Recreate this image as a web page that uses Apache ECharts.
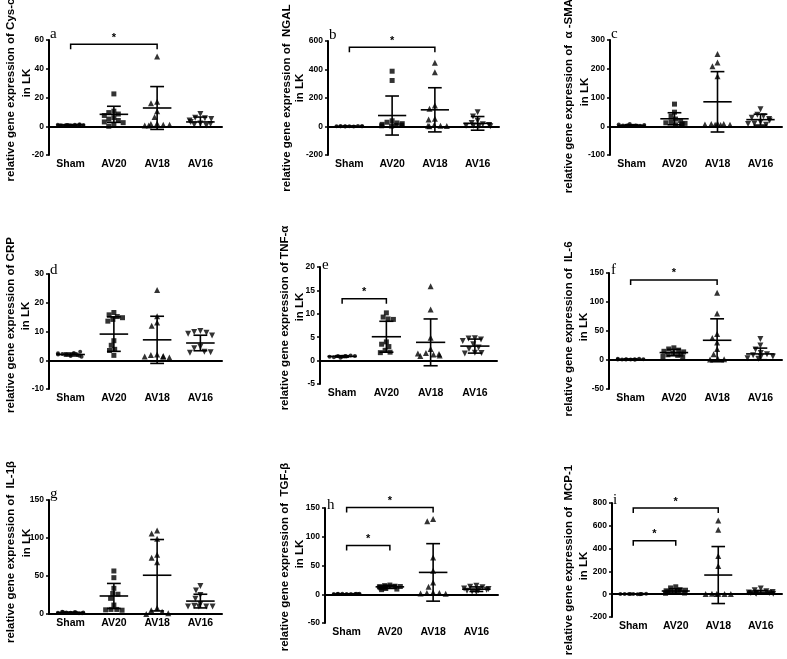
<!DOCTYPE html>
<html><head><meta charset="utf-8">
<script src="https://cdn.jsdelivr.net/npm/echarts@6/dist/echarts.min.js"></script>
<style>html,body{margin:0;padding:0;background:#fff}#c{width:787px;height:659px}</style>
</head><body><div id="c"></div>
<script>
// ---------- DATA ----------
const categories = ['Sham', 'AV20', 'AV18', 'AV16'];
const panelLetters = ['a', 'b', 'c', 'd', 'e', 'f', 'g', 'h', 'i'];
const yTitles = [
  'relative gene expression of Cys-c',
  'relative gene expression of  NGAL',
  'relative gene expression of  \u03b1 -SMA',
  'relative gene expression of CRP',
  'relative gene expression of TNF-\u03b1',
  'relative gene expression of  IL-6',
  'relative gene expression of  IL-1\u03b2',
  'relative gene expression of  TGF-\u03b2',
  'relative gene expression of  MCP-1'
];
const yTitle2 = 'in LK';
const sigMark = '*';

// y-axis ranges [min, max, interval]
const yRanges = [
  [-20, 60, 20], [-200, 600, 200], [-100, 300, 100],
  [-10, 30, 10], [-5, 20, 5], [-50, 150, 50],
  [0, 150, 50], [-50, 150, 50], [-200, 800, 200]
];

// Panel a: Cys-c
const cysC_points = [
  [0.5, 0.8, 1.0, 1.2, 0.6, 0.9, 1.1, 0.7, 1.3, 0.8],
  [22.5, 10.5, 9.5, 8.5, 7.5, 6, 5, 4, 3, 2.5, 1, 0],
  [48.5, 17, 16, 10.5, 6.5, 2, 1.5, 1, 1, 0.5, 0.5],
  [8.5, 6, 5.5, 5, 4, 3, 2, 1.5, 1, 0.5]
];
const cysC_mean = [0.9, 8.3, 12.7, 3.0];
const cysC_sd = [0.3, 5.6, 14.9, 3.4];
const cysC_sig = [[0, 2, 57]];

// Panel b: NGAL
const ngal_points = [
  [1, 2, 0.5, 1.5, 3, 1, 2, 0.5, 1, 2],
  [388, 323, 40, 30, 25, 20, 15, 10, 8, 5, 3],
  [447, 381, 147, 124, 54, 50, 10, 5, 5, 3, 2],
  [100, 70, 40, 25, 15, 10, 5, 5, 3, 1]
];
const ngal_mean = [1.3, 77, 117, 22];
const ngal_sd = [0.8, 137, 155, 48];
const ngal_sig = [[0, 2, 557]];

// Panel c: alpha-SMA
const sma_points = [
  [1, 2, 3, 1.5, 2.5, 4, 6, 8, 3, 2],
  [77, 49, 35, 25, 20, 15, 12, 10, 8, 5, 3],
  [251, 222, 209, 174, 10, 8, 8, 6, 5, 5, 4],
  [59, 40, 35, 30, 25, 20, 15, 10, 8, 5]
];
const sma_mean = [3.3, 26, 85, 23];
const sma_sd = [2.2, 21, 105, 19];
const sma_sig = [];

// Panel d: CRP
const crp_points = [
  [1.5, 2, 2.5, 1.8, 2.2, 3, 1.2, 2, 1.6, 2.4],
  [16.6, 15.8, 15.2, 14.8, 14.2, 13.6, 6.8, 5.2, 3.8, 3.4, 1.7],
  [24.4, 15.3, 13.1, 12, 2, 1.8, 1.5, 1.3, 1, 1.2],
  [10.2, 9.8, 9.6, 9.2, 8.6, 4.7, 4.2, 3, 2.8, 2.6]
];
const crp_mean = [2.0, 9.1, 7.1, 6.0];
const crp_sd = [0.5, 6.0, 8.2, 2.7];
const crp_sig = [];

// Panel e: TNF-alpha
const tnf_points = [
  [0.8, 1, 0.9, 0.7, 1.1, 0.8, 1, 0.9, 0.6, 1],
  [10.2, 9.3, 8.9, 8.8, 4, 3.5, 3, 2.2, 1.8, 1.7],
  [15.9, 10.9, 4.9, 2.5, 1.6, 1.3, 1.1, 1, 1.4, 1.5],
  [4.8, 4.7, 4.5, 4.2, 3.5, 2.8, 2.5, 1.7, 1.6, 1.5]
];
const tnf_mean = [0.9, 5.1, 3.9, 3.1];
const tnf_sd = [0.15, 3.3, 5.0, 1.5];
const tnf_sig = [[0, 1, 13.2]];

// Panel f: IL-6
const il6_points = [
  [1, 1.5, 0.5, 2, 1, 1.2, 0.8, 1.5, 2, 1],
  [21, 19, 17, 15, 14, 12, 10, 9, 8, 6, 5],
  [116, 80, 45, 38, 30, 19, 10, 2, 1.5, 1],
  [36, 25, 18, 12, 10, 8, 6, 5, 3, 2]
];
const il6_mean = [1.2, 12.8, 34, 10.5];
const il6_sd = [0.5, 5.5, 37, 10];
const il6_sig = [[0, 2, 138]];

// Panel g: IL-1beta
const il1b_points = [
  [1.5, 2, 2.5, 1, 3, 2, 1.5, 2.5, 2, 1],
  [56.6, 47.8, 33.8, 27, 26, 20.6, 11.8, 6, 6, 5.5, 5],
  [110, 106, 99, 78, 74, 68, 8, 5, 3, 1, 0],
  [37, 31, 25, 20, 13, 11, 10, 10, 10, 10]
];
const il1b_mean = [1.9, 23.7, 51, 17];
const il1b_sd = [0.6, 16.5, 47, 9];
const il1b_sig = [];

// Panel h: TGF-beta
const tgf_points = [
  [0.5, 1, 0.3, 0.8, 0.5, 0.6, 1, 0.4, 0.7, 0.5],
  [16, 15, 14, 13.5, 13, 12.5, 12, 11, 10, 9, 8],
  [131, 127, 64, 41, 20.5, 13, 3, 2, 2, 1.5, 1],
  [15, 13, 12, 10, 9, 8, 7, 6, 5, 4]
];
const tgf_mean = [0.6, 12.9, 38, 8.8];
const tgf_sd = [0.2, 2.8, 50, 4];
const tgf_sig = [[0, 2, 151], [0, 1, 85]];

// Panel i: MCP-1
const mcp_points = [
  [1, 2, 0.5, 1.5, 1, 2, 3, 1, 0.5, 1],
  [65, 55, 40, 35, 30, 25, 20, 20, 15, 10, 8],
  [647, 565, 335, 247, 5, 3, 2, 2, 2, 1],
  [50, 35, 25, 20, 15, 10, 10, 10, 5, 5]
];
const mcp_mean = [1.4, 28, 168, 18];
const mcp_sd = [0.8, 20, 250, 15];
const mcp_sig = [[0, 2, 756], [0, 1, 468]];

const panelPoints = [cysC_points, ngal_points, sma_points, crp_points, tnf_points, il6_points, il1b_points, tgf_points, mcp_points];
const panelMeans = [cysC_mean, ngal_mean, sma_mean, crp_mean, tnf_mean, il6_mean, il1b_mean, tgf_mean, mcp_mean];
const panelSDs = [cysC_sd, ngal_sd, sma_sd, crp_sd, tnf_sd, il6_sd, il1b_sd, tgf_sd, mcp_sd];
const panelSig = [cysC_sig, ngal_sig, sma_sig, crp_sig, tnf_sig, il6_sig, il1b_sig, tgf_sig, mcp_sig];

// ---------- LAYOUT (pixels) ----------
const gridRects = [
  [49, 40, 173, 115], [328, 41, 171, 114], [610, 40, 172, 115],
  [49, 274, 173, 115], [320, 267, 177, 117], [609, 273, 173, 116],
  [49, 500, 173, 114], [325, 508, 173, 115], [612, 503, 170, 114]
];
// [line1 x, line1 y, line2 x, line2 y]
const titlePos = [
  [10.5, 90, 27, 83], [287, 98, 300, 88], [569, 96, 585, 92],
  [11, 325, 26, 316], [285, 318, 300, 307], [569, 329, 584, 327],
  [11, 552, 27, 543], [285, 557, 300, 554], [569, 560, 584, 566]
];
// panel letter [x, baseline y]
const letterPos = [
  [50, 39], [329, 40], [611, 39],
  [50, 275], [322, 270], [611, 275],
  [50, 499], [327, 510], [613, 505]
];

const symbols = ['circle', 'rect', 'triangle', 'triangle'];
const symSizes = [4, 5, 6, 6];
const symRot = [0, 0, 0, 180];
const FONT = '"Liberation Sans", Arial, sans-serif';

function renderErr(params, api) {
  const i = api.value(0), m = api.value(1), s = api.value(2);
  const c = api.coord([i, m]);
  const t = api.coord([i, m + s]);
  const b = api.coord([i, m - s]);
  const bw = api.size([1, 0])[0];
  const mw = bw * 0.33, cw = bw * 0.16;
  const st = { stroke: '#000', lineWidth: 1.6, fill: null };
  return {
    type: 'group', children: [
      { type: 'line', shape: { x1: c[0] - mw, y1: c[1], x2: c[0] + mw, y2: c[1] }, style: st },
      { type: 'line', shape: { x1: c[0], y1: t[1], x2: c[0], y2: b[1] }, style: st },
      { type: 'line', shape: { x1: c[0] - cw, y1: t[1], x2: c[0] + cw, y2: t[1] }, style: st },
      { type: 'line', shape: { x1: c[0] - cw, y1: b[1], x2: c[0] + cw, y2: b[1] }, style: st }
    ]
  };
}

function renderBracket(params, api) {
  const a = api.coord([api.value(0), api.value(2)]);
  const b = api.coord([api.value(1), api.value(2)]);
  const tick = 5;
  return {
    type: 'group', children: [
      { type: 'polyline', shape: { points: [[a[0], a[1] + tick], [a[0], a[1]], [b[0], b[1]], [b[0], b[1] + tick]] },
        style: { stroke: '#000', lineWidth: 1.5, fill: null } },
      { type: 'text', x: (a[0] + b[0]) / 2, y: a[1] - 1,
        style: { text: sigMark, font: 'bold 11px ' + FONT, textAlign: 'center', textVerticalAlign: 'bottom', fill: '#000' } }
    ]
  };
}

const grids = [], xAxes = [], yAxes = [], series = [], graphics = [];
panelPoints.forEach((pts, k) => {
  const g = gridRects[k];
  grids.push({ left: g[0], top: g[1], width: g[2], height: g[3], outerBoundsMode: 'none', containLabel: false });
  xAxes.push({
    gridIndex: k, type: 'category', data: categories, boundaryGap: true,
    jitter: 26, jitterOverlap: false, jitterMargin: 0.3,
    axisLine: { onZero: true, lineStyle: { color: '#000', width: 2 } },
    axisTick: { show: false },
    axisLabel: { color: '#000', fontWeight: 'bold', fontSize: 10.5, fontFamily: FONT, margin: 4, interval: 0 },
    splitLine: { show: false }
  });
  const r = yRanges[k];
  yAxes.push({
    gridIndex: k, type: 'value', min: r[0], max: r[1], interval: r[2],
    axisLine: { show: true, onZero: false, lineStyle: { color: '#000', width: 2 } },
    axisTick: { show: true, length: 3, lineStyle: { color: '#000', width: 1.5 } },
    axisLabel: { color: '#000', fontWeight: 'bold', fontSize: 8.5, fontFamily: FONT, margin: 5 },
    splitLine: { show: false }
  });
  pts.forEach((vals, gi) => {
    series.push({
      type: 'scatter', xAxisIndex: k, yAxisIndex: k,
      symbol: symbols[gi], symbolSize: symSizes[gi], symbolRotate: symRot[gi],
      itemStyle: { color: '#000' }, silent: true, z: 2,
      data: vals.map(v => [gi, v])
    });
  });
  series.push({
    type: 'custom', xAxisIndex: k, yAxisIndex: k, renderItem: renderErr, silent: true, z: 3,
    encode: { x: 0, y: 1 },
    data: panelMeans[k].map((m, gi) => [gi, m, panelSDs[k][gi]])
  });
  if (panelSig[k].length) {
    series.push({
      type: 'custom', xAxisIndex: k, yAxisIndex: k, renderItem: renderBracket, silent: true, z: 3,
      encode: { x: [0, 1], y: 2 }, data: panelSig[k]
    });
  }
  const tp = titlePos[k];
  graphics.push({ type: 'text', x: tp[0], y: tp[1], rotation: Math.PI / 2, silent: true,
    style: { text: yTitles[k], font: 'bold 11.5px ' + FONT, textAlign: 'center', textVerticalAlign: 'middle', fill: '#000' } });
  graphics.push({ type: 'text', x: tp[2], y: tp[3], rotation: Math.PI / 2, silent: true,
    style: { text: yTitle2, font: 'bold 11.5px ' + FONT, textAlign: 'center', textVerticalAlign: 'middle', fill: '#000' } });
  const lp = letterPos[k];
  graphics.push({ type: 'text', x: lp[0], y: lp[1] - 5, silent: true,
    style: { text: panelLetters[k], font: '15px "Liberation Serif", "Times New Roman", serif', textAlign: 'left', textVerticalAlign: 'middle', fill: '#000' } });
});

const chart = echarts.init(document.getElementById('c'), null, { renderer: 'canvas' });
chart.setOption({
  animation: false,
  backgroundColor: '#fff',
  grid: grids, xAxis: xAxes, yAxis: yAxes, series: series,
  graphic: { elements: graphics }
});
</script></body></html>
